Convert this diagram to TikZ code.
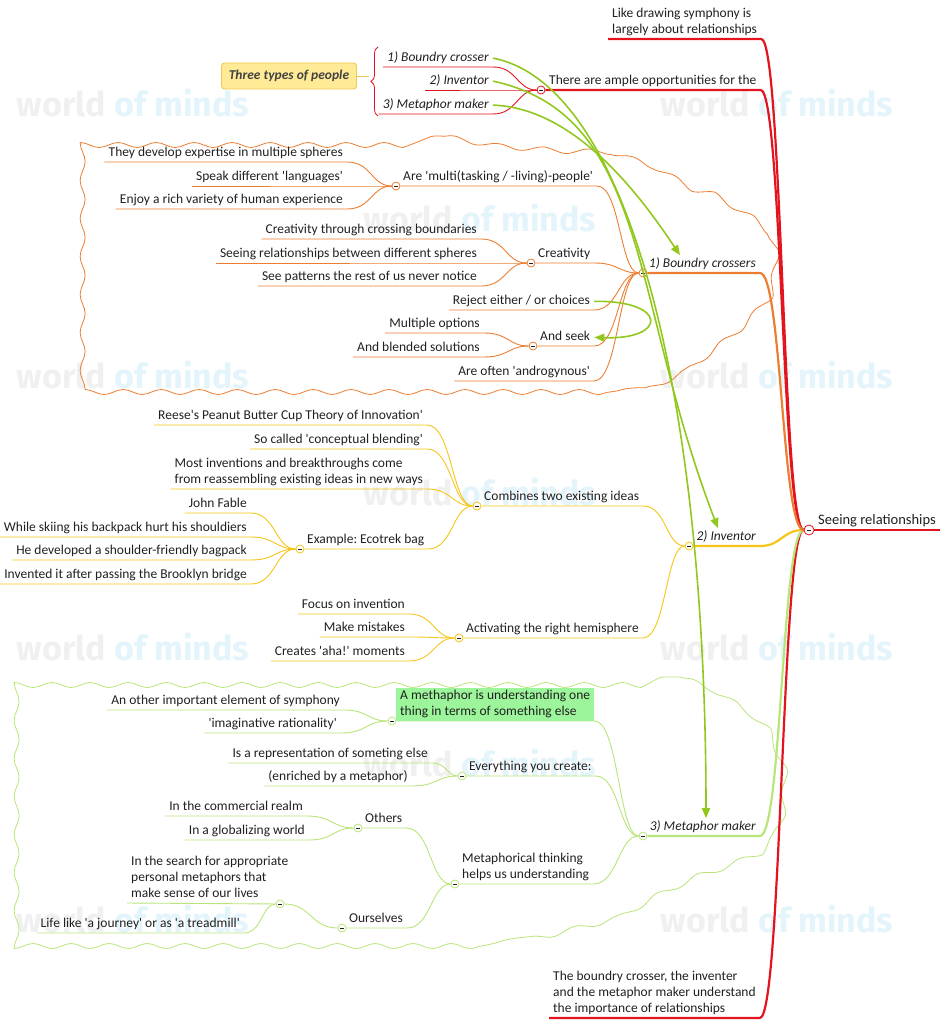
\documentclass[tikz,border=0pt]{standalone}
\usepackage{fontspec}
\setmainfont{Carlito}[Ligatures=TeXOff]
\newfontfamily\wmfont{Fira Sans}
\frenchspacing
\usetikzlibrary{calc,arrows.meta,backgrounds,decorations.pathmorphing,decorations.pathreplacing}

\definecolor{mmred}{HTML}{E3141E}
\definecolor{mmorange}{HTML}{ED7D31}
\definecolor{mmyellow}{HTML}{F5C518}
\definecolor{mmgreen}{HTML}{B8E57A}
\definecolor{relgreen}{HTML}{92C81E}
\definecolor{mmtext}{HTML}{202020}
\definecolor{notefill}{HTML}{9CF59A}
\definecolor{typesfill}{HTML}{FFEB96}
\definecolor{typesline}{HTML}{F0C850}
\definecolor{wmgray}{HTML}{F0F0F0}
\definecolor{wmblue}{HTML}{E4F4FB}

\tikzset{
  topic/.style={inner xsep=4pt, inner ysep=2pt, text depth=3.5pt, text=mmtext,
    font=\fontsize{13.5}{16}\selectfont},
  topic ml/.style={topic, align=left},
  topic it/.style={topic, font=\fontsize{13.5}{16}\selectfont\itshape},
  knob/.style={circle, draw=#1, fill=white, line width=0.8pt, minimum size=8pt, inner sep=0pt,
    path picture={\draw[mmtext, line width=0.9pt]
      ([xshift=-2pt]path picture bounding box.center) -- ([xshift=2pt]path picture bounding box.center);}},
  link/.style={to path={let \p1=(\tikztostart), \p2=(\tikztotarget) in
    .. controls ({(\x1+\x2)/2},\y1) and ({(\x1+\x2)/2},\y2) .. (\tikztotarget)}},
  twig/.style={line width=0.9pt},
  thick branch/.style={line width=2.2pt},
  relation/.style={relgreen, line width=1.6pt, -{Triangle[length=10pt,width=8pt]}},
  cloud line/.style={line width=0.8pt, decorate, decoration={snake, amplitude=2.5pt, segment length=38pt}},
  cloud lobes/.style={line width=0.8pt, decorate, decoration={snake, amplitude=2.5pt, segment length=45pt}},
  watermark/.style={font=\wmfont\bfseries\fontsize{34}{34}\selectfont},
}

\begin{document}
\begin{tikzpicture}[x=1pt, y=-1pt]
\useasboundingbox (0,0) rectangle (943,1024);

% central topic
\node[knob=mmred, minimum size=10pt] (rk) at (809,530) {};
\node[topic, font=\fontsize{14.5}{17}\selectfont, anchor=south west] (root) at (814,530) {Seeing relationships};

% main topics
\node[topic ml, anchor=south west] (like) at (608,39) {Like drawing symphony is\\largely about relationships};
\node[knob=mmred] (amplek) at (541,90) {};
\node[topic, anchor=south west] (ample) at (545,90) {There are ample opportunities for the};
\node[knob=mmorange] (bck) at (643,273) {};
\node[topic it, anchor=south east] (bc) at (760,273) {1) Boundry crossers};
\node[knob=mmyellow] (invk) at (689,546) {};
\node[topic it, anchor=south east] (inv) at (760,546) {2) Inventor};
\node[knob=mmgreen] (mmk) at (643,836) {};
\node[topic it, anchor=south east] (mm) at (760,836) {3) Metaphor maker};
\node[topic ml, anchor=south west] (concl) at (549,1018) {The boundry crosser, the inventer\\and the metaphor maker understand\\the importance of relationships};

% three types of people
\node[draw=typesline, fill=typesfill, rounded corners=3pt, line width=0.8pt, minimum width=135pt,
  minimum height=26pt, text=mmtext!85, font=\fontsize{13.5}{16}\selectfont\bfseries\itshape] (types) at (289,76) {Three types of people};
\coordinate (typestip) at (369,76);
\node[topic it, anchor=south east] (tbc) at (493,67) {1) Boundry crosser};
\node[topic it, anchor=south east] (tinv) at (493,90) {2) Inventor};
\node[topic it, anchor=south east] (tmm) at (493,114) {3) Metaphor maker};

% boundry crossers
\node[knob=mmorange] (multik) at (396,186) {};
\node[topic, anchor=south west] (multitask) at (399,186) {Are 'multi(tasking / -living)-people'};
\node[topic, anchor=south east] (spheres) at (347,162) {They develop expertise in multiple spheres};
\node[topic, anchor=south east] (lang) at (347,186) {Speak different 'languages'};
\node[topic, anchor=south east] (variety) at (347,209) {Enjoy a rich variety of human experience};
\node[knob=mmorange] (creak) at (531,263) {};
\node[topic, anchor=south west] (crea) at (534,263) {Creativity};
\node[topic, anchor=south east] (crossing) at (481,239) {Creativity through crossing boundaries};
\node[topic, anchor=south east] (seeing) at (481,263) {Seeing relationships between different spheres};
\node[topic, anchor=south east] (patterns) at (481,286) {See patterns the rest of us never notice};
\node[topic, anchor=south east] (reject) at (594,310) {Reject either / or choices};
\node[knob=mmorange] (seekk) at (533,346) {};
\node[topic, anchor=south west] (seek) at (536,346) {And seek};
\node[topic, anchor=south east] (options) at (484,333) {Multiple options};
\node[topic, anchor=south east] (blended) at (484,357) {And blended solutions};
\node[topic, anchor=south east] (andro) at (594,381) {Are often 'androgynous'};

% inventor
\node[knob=mmyellow] (combk) at (477,506) {};
\node[topic, anchor=south west] (comb) at (480,506) {Combines two existing ideas};
\node[topic, anchor=south east] (reese) at (427,425) {Reese's Peanut Butter Cup Theory of Innovation'};
\node[topic, anchor=south east] (blending) at (427,449) {So called 'conceptual blending'};
\node[topic ml, anchor=south east] (reassemble) at (427,489) {Most inventions and breakthroughs come\\from reassembling existing ideas in new ways};
\node[knob=mmyellow] (ecok) at (300,549) {};
\node[topic, anchor=south west] (eco) at (303,549) {Example: Ecotrek bag};
\node[topic, anchor=south east] (fable) at (251,513) {John Fable};
\node[topic, anchor=south east] (skiing) at (251,537) {While skiing his backpack hurt his shouldiers};
\node[topic, anchor=south east] (bagpack) at (251,560) {He developed a shoulder-friendly bagpack};
\node[topic, anchor=south east] (brooklyn) at (251,584) {Invented it after passing the Brooklyn bridge};
\node[knob=mmyellow] (actk) at (459,638) {};
\node[topic, anchor=south west] (act) at (462,638) {Activating the right hemisphere};
\node[topic, anchor=south east] (focus) at (409,614) {Focus on invention};
\node[topic, anchor=south east] (mistakes) at (409,637) {Make mistakes};
\node[topic, anchor=south east] (aha) at (409,661) {Creates 'aha!' moments};

% metaphor maker
\node[knob=mmgreen] (metak) at (392,721) {};
\node[topic ml, fill=notefill, anchor=south west] (meta) at (396,721) {A methaphor is understanding one\\thing in terms of something else};
\node[topic, anchor=south east] (symphony) at (344,710) {An other important element of symphony};
\node[topic, anchor=south east] (rationality) at (341,733) {'imaginative rationality'};
\node[knob=mmgreen] (createk) at (462,776) {};
\node[topic, anchor=south west] (create) at (465,776) {Everything you create:};
\node[topic, anchor=south east] (repr) at (432,763) {Is a representation of someting else};
\node[topic, anchor=south east] (enriched) at (412,786) {(enriched by a metaphor)};
\node[knob=mmgreen] (thinkk) at (455,884) {};
\node[topic ml, anchor=south west] (think) at (458,884) {Metaphorical thinking\\helps us understanding};
\node[knob=mmgreen] (othersk) at (358,828) {};
\node[topic, anchor=south west] (others) at (361,828) {Others};
\node[topic, anchor=south east] (realm) at (307,816) {In the commercial realm};
\node[topic, anchor=south east] (global) at (309,840) {In a globalizing world};
\node[knob=mmgreen] (oursk) at (342,928) {};
\node[topic, anchor=south west] (ours) at (345,928) {Ourselves};
\node[topic ml, anchor=south west] (search) at (127,903) {In the search for appropriate\\personal metaphors that\\make sense of our lives};
\node[knob=mmgreen] (searchk) at (280,904) {};
\node[topic, anchor=south east] (life) at (244,933) {Life like 'a journey' or as 'a treadmill'};

\begin{scope}[on background layer]
% watermark
\node[watermark] (wm1) at (133,103) {\textcolor{wmgray}{world} \textcolor{wmblue}{of minds}};
\node[watermark] (wm2) at (777,103) {\textcolor{wmgray}{world} \textcolor{wmblue}{of minds}};
\node[watermark] (wm3) at (480,218) {\textcolor{wmgray}{world} \textcolor{wmblue}{of minds}};
\node[watermark] (wm4) at (133,375) {\textcolor{wmgray}{world} \textcolor{wmblue}{of minds}};
\node[watermark] (wm5) at (777,375) {\textcolor{wmgray}{world} \textcolor{wmblue}{of minds}};
\node[watermark] (wm6) at (480,492) {\textcolor{wmgray}{world} \textcolor{wmblue}{of minds}};
\node[watermark] (wm7) at (133,647) {\textcolor{wmgray}{world} \textcolor{wmblue}{of minds}};
\node[watermark] (wm8) at (777,647) {\textcolor{wmgray}{world} \textcolor{wmblue}{of minds}};
\node[watermark] (wm9) at (480,763) {\textcolor{wmgray}{world} \textcolor{wmblue}{of minds}};
\node[watermark] (wm10) at (133,919) {\textcolor{wmgray}{world} \textcolor{wmblue}{of minds}};
\node[watermark] (wm11) at (777,919) {\textcolor{wmgray}{world} \textcolor{wmblue}{of minds}};
\node[watermark] (wm12) at (480,1040) {\textcolor{wmgray}{world} \textcolor{wmblue}{of minds}};

% boundaries
\draw[mmorange, cloud line] (610,392) -- (97,392) -- (97,136) -- (440,136);
\draw[mmorange, cloud lobes] (440,136) -- (497,146) -- (553,150) -- (600,151) -- (647,167) -- (680,186)
  -- (707,193) -- (735,210) -- (758,230) -- (770,262) -- (764,300) -- (730,336) -- (692,366) -- (650,386) -- (610,392);
\draw[mmgreen, cloud line] (482,946) -- (21,946) -- (21,677) -- (680,677);
\draw[mmgreen, cloud lobes] (680,677) -- (714,690) -- (740,707) -- (763,728) -- (776,760)
  -- (774,800) -- (762,830) -- (742,855) -- (714,866) -- (678,878) -- (640,896) -- (602,918) -- (542,933) -- (482,946);

% main branches
\draw[mmred, thick branch] (rk) -- (root.south east);
\draw[mmred, thick branch] (like.south west) -- (like.south east) to[link] (rk.west);
\draw[mmred, thick branch] (amplek) -- (ample.south east) to[link] (rk.west);
\draw[mmred, thick branch] (concl.south west) -- (concl.south east) to[link] (rk.west);
\draw[mmgreen, thick branch] (mmk) -- (mm.south east) to[link] (rk.west);
\draw[mmyellow, thick branch] (invk) -- (inv.south east) to[link] (rk.west);
\draw[mmorange, thick branch] (bck) -- (bc.south east) to[link] (rk.west);

% three types
\draw[mmred, twig] (tbc.south west) -- (tbc.south east) to[link] (amplek);
\draw[mmred, twig] (tinv.south west) -- (tinv.south east) to[link] (amplek);
\draw[mmred, twig] (tmm.south west) -- (tmm.south east) to[link] (amplek);

% boundry crossers
\draw[mmorange, twig] (multik) -- (multitask.south east) to[link] (bck);
\draw[mmorange, twig] (spheres.south west) -- (spheres.south east) to[link] (multik);
\draw[mmorange, twig] (lang.south west) -- (lang.south east) to[link] (multik);
\draw[mmorange, twig] (variety.south west) -- (variety.south east) to[link] (multik);
\draw[mmorange, twig] (creak) -- (crea.south east) to[link] (bck);
\draw[mmorange, twig] (crossing.south west) -- (crossing.south east) to[link] (creak);
\draw[mmorange, twig] (seeing.south west) -- (seeing.south east) to[link] (creak);
\draw[mmorange, twig] (patterns.south west) -- (patterns.south east) to[link] (creak);
\draw[mmorange, twig] (reject.south west) -- (reject.south east) to[link] (bck);
\draw[mmorange, twig] (seekk) -- (seek.south east) to[link] (bck);
\draw[mmorange, twig] (options.south west) -- (options.south east) to[link] (seekk);
\draw[mmorange, twig] (blended.south west) -- (blended.south east) to[link] (seekk);
\draw[mmorange, twig] (andro.south west) -- (andro.south east) to[link] (bck);

% inventor
\draw[mmyellow, twig] (combk) -- (comb.south east) to[link] (invk);
\draw[mmyellow, twig] (reese.south west) -- (reese.south east) to[link] (combk);
\draw[mmyellow, twig] (blending.south west) -- (blending.south east) to[link] (combk);
\draw[mmyellow, twig] (reassemble.south west) -- (reassemble.south east) to[link] (combk);
\draw[mmyellow, twig] (ecok) -- (eco.south east) to[link] (combk);
\draw[mmyellow, twig] (fable.south west) -- (fable.south east) to[link] (ecok);
\draw[mmyellow, twig] (skiing.south west) -- (skiing.south east) to[link] (ecok);
\draw[mmyellow, twig] (bagpack.south west) -- (bagpack.south east) to[link] (ecok);
\draw[mmyellow, twig] (brooklyn.south west) -- (brooklyn.south east) to[link] (ecok);
\draw[mmyellow, twig] (actk) -- (act.south east) to[link] (invk);
\draw[mmyellow, twig] (focus.south west) -- (focus.south east) to[link] (actk);
\draw[mmyellow, twig] (mistakes.south west) -- (mistakes.south east) to[link] (actk);
\draw[mmyellow, twig] (aha.south west) -- (aha.south east) to[link] (actk);

% metaphor maker
\draw[mmgreen, twig] (metak) -- (meta.south east) to[link] (mmk);
\draw[mmgreen, twig] (symphony.south west) -- (symphony.south east) to[link] (metak);
\draw[mmgreen, twig] (rationality.south west) -- (rationality.south east) to[link] (metak);
\draw[mmgreen, twig] (createk) -- (create.south east) to[link] (mmk);
\draw[mmgreen, twig] (repr.south west) -- (repr.south east) to[link] (createk);
\draw[mmgreen, twig] (enriched.south west) -- (enriched.south east) to[link] (createk);
\draw[mmgreen, twig] (thinkk) -- (think.south east) to[link] (mmk);
\draw[mmgreen, twig] (othersk) -- (others.south east) to[link] (thinkk);
\draw[mmgreen, twig] (realm.south west) -- (realm.south east) to[link] (othersk);
\draw[mmgreen, twig] (global.south west) -- (global.south east) to[link] (othersk);
\draw[mmgreen, twig] (oursk) -- (ours.south east) to[link] (thinkk);
\draw[mmgreen, twig] (search.south west) -- (searchk) to[link] (oursk);
\draw[mmgreen, twig] (life.south west) -- (life.south east) to[link] (searchk);
\end{scope}

% brace
\draw[mmred, line width=0.8pt, decorate, decoration={brace, amplitude=7pt}] (378,116) -- (378,47);
\draw[typesline, line width=0.8pt] (types.east) -- (typestip);

% relationships
\draw[relation] (tbc.east) .. controls (630,85) and (706,400) .. ([xshift=-54pt]mm.north east);
\draw[relation] (tinv.east) .. controls (650,115) and (630,300) .. ([xshift=-42pt]inv.north east);
\draw[relation] (tmm.east) .. controls (575,108) and (640,195) .. ([xshift=-80pt]bc.north east);
\draw[relation] (reject.east) .. controls (668,300) and (668,340) .. (seek.east);
\end{tikzpicture}
\end{document}
